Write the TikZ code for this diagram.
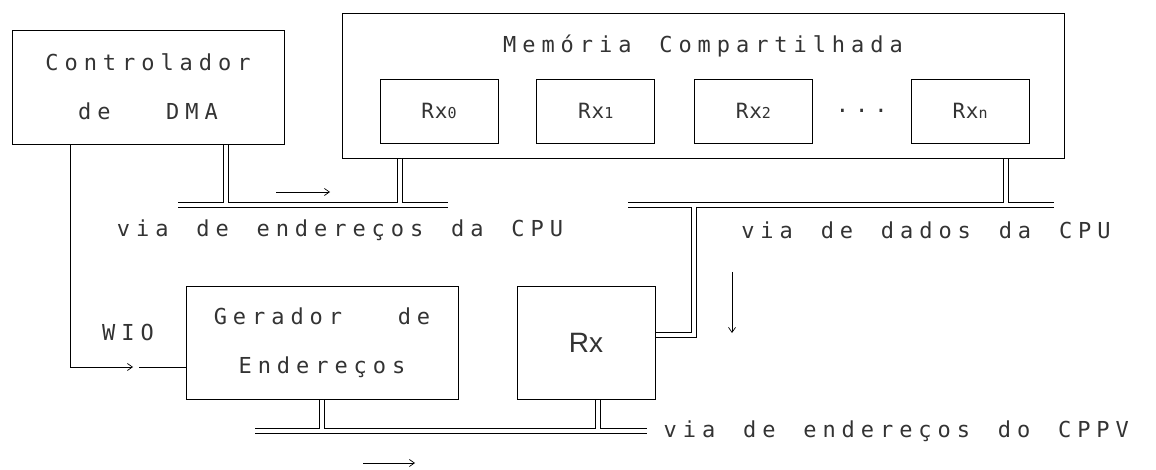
\documentclass[tikz,border=0pt]{standalone}
\usepackage{fontspec}
\newfontfamily\dotfont[LetterSpace=27,WordSpace=1.45]{DejaVu Sans Mono}
\newfontfamily\regfont[LetterSpace=4]{DejaVu Sans Mono}
\newfontfamily\rxfont{Liberation Sans}
\newcommand\regidx[1]{{\fontsize{15}{15}\selectfont #1}}
\usetikzlibrary{arrows.meta,positioning,calc}

\begin{document}
\begin{tikzpicture}[x=1pt, y=-1pt, >={Straight Barb[length=5pt,width=7pt]}, line width=0.7pt,
  font=\dotfont\fontsize{22}{49}\selectfont, text=black!80,
  box/.style={draw, inner sep=0pt, align=center},
  regbox/.style={box, minimum width=118pt, minimum height=64pt, font=\regfont\fontsize{21}{21}\selectfont},
  bus/.style={double, double distance=4pt, line width=1pt}]
  \useasboundingbox (0,0) rectangle (1156,470);
  % blocos
  \node[box, minimum width=272pt, minimum height=114pt] (dma) at (148,87) {Controlador\\de\ \ DMA};
  \node[box, minimum width=722pt, minimum height=145pt] (mem) at (703,85.5) {};
  \node[anchor=base] (memtitle) at ([yshift=-40pt]mem.north) {Memória Compartilhada};
  \node[regbox] (rx0) at (439,111) {Rx\regidx{0}};
  \node[regbox, right=38pt of rx0] (rx1) {Rx\regidx{1}};
  \node[regbox, right=39pt of rx1] (rx2) {Rx\regidx{2}};
  \node[regbox, right=98pt of rx2] (rxn) {Rx\regidx{n}};
  \node (dots) at ($(rx2.east)!.5!(rxn.west)$) {...};
  \node[box, minimum width=272pt, minimum height=113pt] (gen) at (322,342.5) {Gerador\ \ de\\Endereços};
  \node[box, minimum width=138pt, minimum height=113pt, font=\rxfont\fontsize{28}{28}\selectfont] (rx) at (586,342.5) {Rx};
  % vias
  \coordinate (abusL) at (178,205);
  \coordinate (abusR) at (448,205);
  \coordinate (abusT) at (0,203);
  \coordinate (dbusL) at (628,205);
  \coordinate (dbusR) at (1054,205);
  \coordinate (pbusL) at (255,431);
  \coordinate (pbusR) at (647,431);
  \coordinate (pbusT) at (0,429);
  \draw[bus] (abusL) -- (abusR);
  \draw[bus] (dbusL) -- (dbusR);
  \draw[bus] (pbusL) -- (pbusR);
  \node (cpuaddr) at (340,230) {via de endereços da CPU};
  \node (cpudata) at (926,230) {via de dados da CPU};
  \node[right=13pt of pbusR] (cppvaddr) {via de endereços do CPPV};
  % derivacoes
  \coordinate (dmatap) at ([xshift=78pt,yshift=-0.4pt]dma.south);
  \coordinate (memtapA) at ([xshift=-303pt,yshift=-0.4pt]mem.south);
  \coordinate (memtapB) at ([xshift=303pt,yshift=-0.4pt]mem.south);
  \coordinate (gentap) at ([yshift=-0.4pt]gen.south);
  \coordinate (rxtap) at ([xshift=12pt,yshift=-0.4pt]rx.south);
  \coordinate (dbusB) at (694,207);
  \draw[bus] (dmatap) -- (dmatap |- abusT);
  \draw[bus] (memtapA) -- (memtapA |- abusT);
  \draw[bus] (memtapB) -- (memtapB |- abusT);
  \draw[bus] (dbusB) |- ([xshift=0.4pt,yshift=7.5pt]rx.east);
  \draw[bus] (gentap) -- (gentap |- pbusT);
  \draw[bus] (rxtap) -- (rxtap |- pbusT);
  % sinal WIO
  \coordinate (wiotap) at ([xshift=-78pt]dma.south);
  \coordinate (wiotip) at (133,367);
  \coordinate (wiogap) at (139,367);
  \draw[->] (wiotap) |- (wiotip);
  \draw (wiogap) -- (wiogap -| gen.west);
  \node (wio) at (128,332) {WIO};
  % sentido do fluxo
  \coordinate (cpuflowS) at (276,192);
  \coordinate (cpuflowE) at (330,192);
  \coordinate (dataflowS) at (732,272);
  \coordinate (dataflowE) at (732,333);
  \coordinate (cppvflowS) at (363,463);
  \coordinate (cppvflowE) at (415,463);
  \draw[->] (cpuflowS) -- (cpuflowE);
  \draw[->] (dataflowS) -- (dataflowE);
  \draw[->] (cppvflowS) -- (cppvflowE);
\end{tikzpicture}
\end{document}
